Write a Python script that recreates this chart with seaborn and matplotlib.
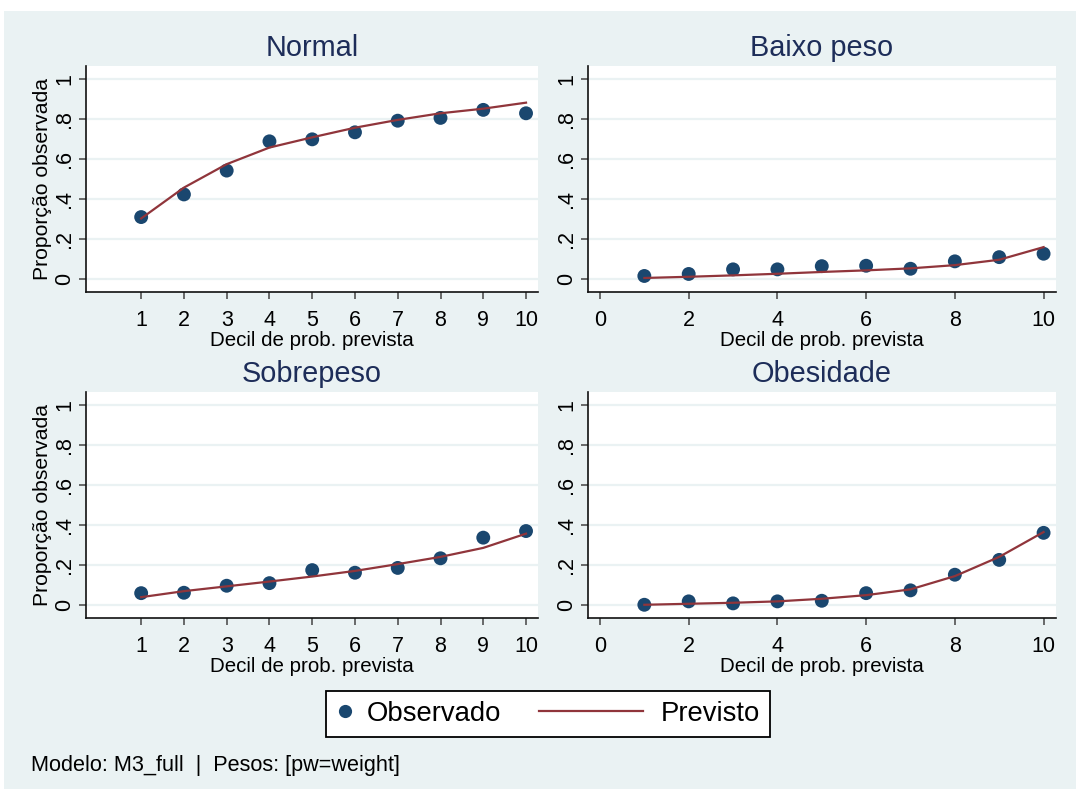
import numpy as np
import pandas as pd
import matplotlib
matplotlib.use("Agg")
import matplotlib.pyplot as plt
from matplotlib.lines import Line2D
from matplotlib.patches import Rectangle
from matplotlib.legend_handler import HandlerLine2D
import seaborn as sns

plt.rcParams['font.family'] = ['Liberation Sans', 'DejaVu Sans']

# ---- data: observed vs predicted proportion by decile of predicted probability
deciles = [1, 2, 3, 4, 5, 6, 7, 8, 9, 10]

obs_normal = [0.311, 0.424, 0.543, 0.689, 0.699, 0.734, 0.792, 0.806, 0.846, 0.829]
prev_normal = [0.304, 0.458, 0.575, 0.658, 0.709, 0.757, 0.796, 0.829, 0.852, 0.882]

obs_baixo = [0.017, 0.027, 0.050, 0.050, 0.066, 0.068, 0.053, 0.090, 0.111, 0.128]
prev_baixo = [0.007, 0.013, 0.020, 0.028, 0.037, 0.045, 0.055, 0.071, 0.098, 0.161]

obs_sobre = [0.061, 0.063, 0.098, 0.111, 0.176, 0.163, 0.187, 0.235, 0.338, 0.371]
prev_sobre = [0.041, 0.071, 0.095, 0.119, 0.144, 0.172, 0.206, 0.242, 0.287, 0.358]

obs_obes = [0.003, 0.020, 0.010, 0.020, 0.023, 0.061, 0.075, 0.153, 0.227, 0.362]
prev_obes = [0.003, 0.008, 0.013, 0.020, 0.033, 0.051, 0.080, 0.146, 0.242, 0.366]

categories = ["Normal", "Baixo peso", "Sobrepeso", "Obesidade"]
observed = [obs_normal, obs_baixo, obs_sobre, obs_obes]
predicted = [prev_normal, prev_baixo, prev_sobre, prev_obes]

y_ticks = [0, 0.2, 0.4, 0.6, 0.8, 1.0]
y_ticklabels = ["0", ".2", ".4", ".6", ".8", "1"]
x_ticks_left = [1, 2, 3, 4, 5, 6, 7, 8, 9, 10]
x_ticks_right = [0, 2, 4, 6, 8, 10]

xlabel = "Decil de prob. prevista"
ylabel = "Proporção observada"
legend_labels = ["Observado", "Previsto"]
note = "Modelo: M3_full  |  Pesos: [pw=weight]"

frames = []
for cat, o, p in zip(categories, observed, predicted):
    frames.append(pd.DataFrame({"categoria": cat, "decil": deciles,
                                "observado": o, "previsto": p}))
df = pd.concat(frames, ignore_index=True)

# ---- styling
BG = "#EAF2F3"
NAVY = "#1A476F"
MAROON = "#90353B"
TITLE_C = "#1D2D59"

W, H = 1076, 789
fig = plt.figure(figsize=(W / 100, H / 100), dpi=100)
fig.patch.set_facecolor("white")
fig.patches.append(Rectangle((4 / W, 0), 1 - 4 / W, 1 - 11 / H,
                             transform=fig.transFigure, facecolor=BG,
                             edgecolor="none", zorder=-10))


def px_axes(left, top, right, bottom):
    return [left / W, 1 - bottom / H, (right - left) / W, (bottom - top) / H]


boxes = [px_axes(86, 66, 538, 292), px_axes(588, 66, 1056, 292),
         px_axes(86, 392, 538, 618), px_axes(588, 392, 1056, 618)]
xlims = [(-0.29, 10.28), (-0.27, 10.28), (-0.29, 10.28), (-0.27, 10.28)]

for i, cat in enumerate(categories):
    ax = fig.add_axes(boxes[i])
    sub = df[df["categoria"] == cat]
    ax.set_facecolor("white")
    for yt in y_ticks:
        ax.axhline(yt, color=BG, lw=1.6, zorder=0)
    sns.scatterplot(data=sub, x="decil", y="observado", ax=ax, color=NAVY,
                    s=100, edgecolor="none", zorder=3, legend=False)
    sns.lineplot(data=sub, x="decil", y="previsto", ax=ax, color=MAROON,
                 lw=1.6, zorder=4, legend=False)
    ax.set_xlim(*xlims[i])
    ax.set_ylim(-0.063, 1.065)
    left_col = (i % 2 == 0)
    ax.set_xticks(x_ticks_left if left_col else x_ticks_right)
    ax.set_xticklabels([str(v) for v in (x_ticks_left if left_col else x_ticks_right)])
    ax.set_yticks(y_ticks)
    ax.set_yticklabels(y_ticklabels, rotation=90, va="center")
    for s in ["top", "right"]:
        ax.spines[s].set_visible(False)
    for s in ["left", "bottom"]:
        ax.spines[s].set_color("#111111")
        ax.spines[s].set_linewidth(1.2)
    ax.tick_params(axis="both", direction="out", length=5.2, width=1.1,
                   color="#444444", labelsize=15.5, labelcolor="black")
    ax.tick_params(axis="x", pad=7.5)
    ax.tick_params(axis="y", pad=2.6)
    ax.set_xlabel(xlabel, fontsize=14.8, labelpad=0)
    if left_col:
        ax.set_ylabel(ylabel, fontsize=15.2, labelpad=1.5)
    else:
        ax.set_ylabel("")
    ax.set_title(cat, fontsize=20.8, color=TITLE_C, pad=7)
    ax.grid(False)


class LeftReachingLine(HandlerLine2D):
    """Draw the legend line so it extends to the left of its handle box."""

    def get_xdata(self, legend, xdescent, ydescent, width, height, fontsize):
        x1 = -xdescent + width - 0.25 * fontsize
        x0 = x1 - 3.75 * fontsize
        return [x0, x1], [(x0 + x1) / 2]


dot = Line2D([], [], ls="none", marker="o", markersize=9.5,
             markerfacecolor=NAVY, markeredgecolor="none")
line = Line2D([], [], color=MAROON, lw=1.6)
leg = fig.legend([dot, line], legend_labels, loc="center",
                 bbox_to_anchor=(548 / W, 1 - 714 / H), ncol=2,
                 fontsize=19.8, frameon=True, fancybox=False, framealpha=1,
                 edgecolor="black", handlelength=0.7, handletextpad=0.42,
                 columnspacing=4.7, borderpad=0.35, numpoints=1,
                 handler_map={line: LeftReachingLine(numpoints=1)})
leg.get_frame().set_linewidth(1.3)

fig.text(31 / W, 1 - 765 / H, note, fontsize=15.6, va="center", ha="left")

fig.savefig("out.png", dpi=100, facecolor=fig.get_facecolor())
